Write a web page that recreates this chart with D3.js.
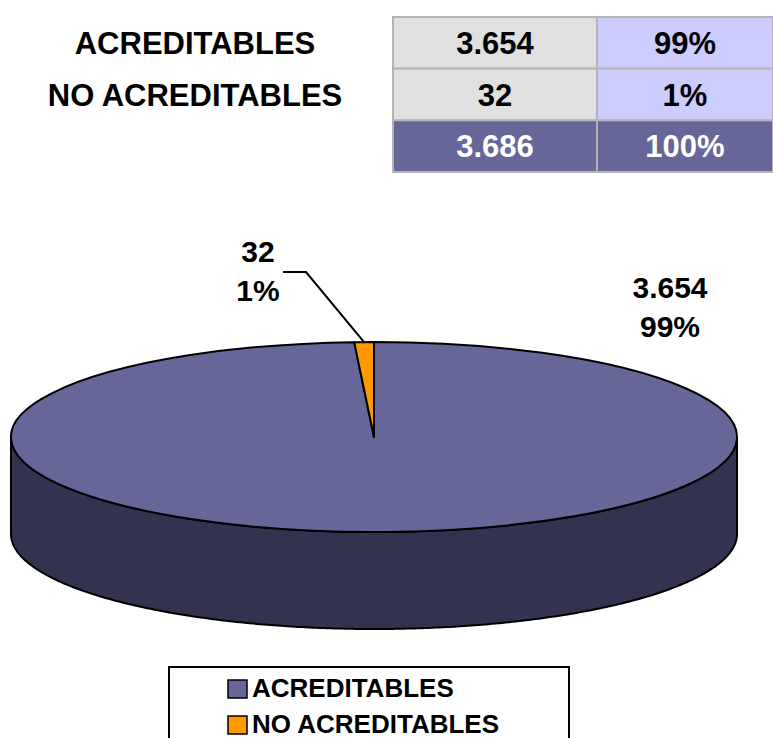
<!DOCTYPE html>
<html>
<head>
<meta charset="utf-8">
<script src="https://cdn.jsdelivr.net/npm/d3@7"></script>
<style>
  html, body { margin: 0; padding: 0; background: #fff; }
  svg text { font-family: "Liberation Sans", Arial, sans-serif; font-weight: bold; }
</style>
</head>
<body>
<div id="chart"></div>
<script>
// data
const categories = ['ACREDITABLES', 'NO ACREDITABLES'];
const values = [3654, 32];
const valueLabels = ['3.654', '32'];
const pctLabels = ['99%', '1%'];
const totalLabels = ['3.686', '100%'];
const colors = ['#666699', '#FF9900'];
const sideColors = ['#33334F', '#805000'];

const W = 773, H = 738;

const svg = d3.select('#chart')
  .append('svg')
  .attr('width', W)
  .attr('height', H);

// ---- summary table ----
const colX = d3.scaleOrdinal().domain([0, 1, 2]).range([393, 597, 773]);
const rowY = d3.scaleBand().domain([0, 1, 2]).range([17, 172]);
const cellFill = [['#E0E0E0', '#CCCCFF'], ['#E0E0E0', '#CCCCFF'], ['#666699', '#666699']];

const tableRows = [
  [valueLabels[0], pctLabels[0]],
  [valueLabels[1], pctLabels[1]],
  totalLabels
];

const table = svg.append('g');
tableRows.forEach((row, r) => {
  row.forEach((txt, c) => {
    const x0 = colX(c), x1 = colX(c + 1);
    const y0 = rowY(r);
    table.append('rect')
      .attr('x', x0).attr('y', y0)
      .attr('width', x1 - x0).attr('height', rowY.bandwidth())
      .attr('fill', cellFill[r][c])
      .attr('stroke', '#b4b4b4')
      .attr('stroke-width', 2);
    table.append('text')
      .attr('x', (x0 + x1) / 2)
      .attr('y', y0 + rowY.bandwidth() / 2 + 11)
      .attr('text-anchor', 'middle')
      .attr('font-size', 31)
      .attr('fill', r === 2 ? '#fff' : '#000')
      .text(txt);
  });
});

categories.forEach((cat, i) => {
  table.append('text')
    .attr('x', 195)
    .attr('y', rowY(i) + rowY.bandwidth() / 2 + 11)
    .attr('text-anchor', 'middle')
    .attr('font-size', 31)
    .text(cat);
});

// ---- 3D pie ----
const cx = 374, cy = 437, rx = 363, ry = 95, depth = 97;

const pie = d3.pie().sort(null).value(d => d);
const arcs = pie(values);

const px = a => cx + rx * Math.sin(a);
const py = a => cy - ry * Math.cos(a);

function sidePath(a0, a1) {
  const s = Math.max(a0, Math.PI / 2), e = Math.min(a1, 3 * Math.PI / 2);
  if (e <= s) return null;
  const steps = d3.range(s, e, 0.01).concat([e]);
  const top = steps.map(a => [px(a), py(a)]);
  const bot = steps.slice().reverse().map(a => [px(a), py(a) + depth]);
  return d3.line()(top.concat(bot)) + 'Z';
}

function topPath(a0, a1) {
  const large = (a1 - a0) > Math.PI ? 1 : 0;
  return `M${cx},${cy}L${px(a0)},${py(a0)}A${rx},${ry} 0 ${large} 1 ${px(a1)},${py(a1)}Z`;
}

const pieG = svg.append('g');

arcs.forEach((d, i) => {
  const p = sidePath(d.startAngle, d.endAngle);
  if (p) {
    pieG.append('path')
      .attr('d', p)
      .attr('fill', sideColors[i])
      .attr('stroke', '#000')
      .attr('stroke-width', 2)
      .attr('stroke-linejoin', 'round');
  }
});

arcs.forEach((d, i) => {
  pieG.append('path')
    .attr('d', topPath(d.startAngle, d.endAngle))
    .attr('fill', colors[i])
    .attr('stroke', '#000')
    .attr('stroke-width', 2)
    .attr('stroke-linejoin', 'round');
});

// data labels
const labelPos = [[670, 298], [258, 262]];
arcs.forEach((d, i) => {
  const g = pieG.append('g');
  g.append('text')
    .attr('x', labelPos[i][0]).attr('y', labelPos[i][1])
    .attr('text-anchor', 'middle')
    .attr('font-size', 30)
    .text(valueLabels[i]);
  g.append('text')
    .attr('x', labelPos[i][0]).attr('y', labelPos[i][1] + 39)
    .attr('text-anchor', 'middle')
    .attr('font-size', 30)
    .text(pctLabels[i]);
});

// leader line for the small slice
const mid = (arcs[1].startAngle + arcs[1].endAngle) / 2;
pieG.append('path')
  .attr('d', d3.line()([[283, 272], [306, 272], [px(mid), py(mid)]]))
  .attr('fill', 'none')
  .attr('stroke', '#000')
  .attr('stroke-width', 2);

// ---- legend ----
const legend = svg.append('g');
legend.append('rect')
  .attr('x', 169).attr('y', 667)
  .attr('width', 400).attr('height', 90)
  .attr('fill', '#fff')
  .attr('stroke', '#000')
  .attr('stroke-width', 2);

const legY = d3.scaleBand().domain(categories).range([679, 751]);
categories.forEach((cat, i) => {
  legend.append('rect')
    .attr('x', 228).attr('y', legY(cat) + 1)
    .attr('width', 19).attr('height', 18)
    .attr('fill', colors[i])
    .attr('stroke', '#000')
    .attr('stroke-width', 1.5);
  legend.append('text')
    .attr('x', 252).attr('y', legY(cat) + 18)
    .attr('font-size', 26)
    .text(cat);
});
</script>
</body>
</html>
